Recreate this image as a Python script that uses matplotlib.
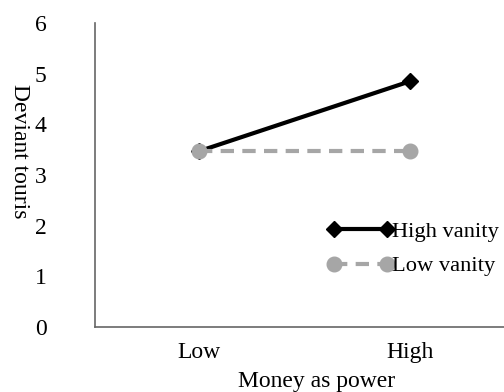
import matplotlib
matplotlib.use('Agg')
import matplotlib.pyplot as plt

categories = ['Low', 'High']
high_vanity = [3.47, 4.85]
low_vanity = [3.47, 3.47]
y_ticks = [0, 1, 2, 3, 4, 5, 6]

plt.rcParams['font.family'] = ['Liberation Serif', 'DejaVu Serif']

W, H = 504, 392
fig = plt.figure(figsize=(W / 100, H / 100), dpi=100)
ax = fig.add_axes([95 / W, (H - 327) / H, (W - 95) / W, 304 / H])

x = list(range(len(categories)))
ax.plot(x, high_vanity, color='black', lw=3, marker='D', ms=8,
        label='High vanity', solid_capstyle='butt')
ax.plot(x, low_vanity, color='#a6a6a6', lw=3, ls=(0, (3.2, 2.0)), marker='o',
        ms=10.5, label='Low vanity')

ax.set_xlim(-0.493, 1.445)
ax.set_ylim(0, 6)
ax.set_yticks(y_ticks)
ax.set_xticks(x)
ax.set_xticklabels(categories)
ax.tick_params(axis='y', length=0, pad=35, labelsize=17)
ax.tick_params(axis='x', length=0, pad=11, labelsize=17)

for side in ['top', 'right']:
    ax.spines[side].set_visible(False)
for side in ['left', 'bottom']:
    ax.spines[side].set_color('#666666')
    ax.spines[side].set_linewidth(1.2)

fig.text(317 / W, 1 - 382 / H, 'Money as power', ha='center', va='center', fontsize=17)
fig.text(19 / W, 1 - 151 / H, 'Deviant touris', ha='center', va='center',
         rotation=270, fontsize=17)

ax.legend(loc='center left', bbox_to_anchor=(327 / W, 1 - 249 / H),
          bbox_transform=fig.transFigure, frameon=False, numpoints=2,
          handlelength=2.95, handletextpad=-0.05, fontsize=16.2, labelspacing=0.6,
          borderaxespad=0, borderpad=0)

fig.savefig('out.png', dpi=100)
